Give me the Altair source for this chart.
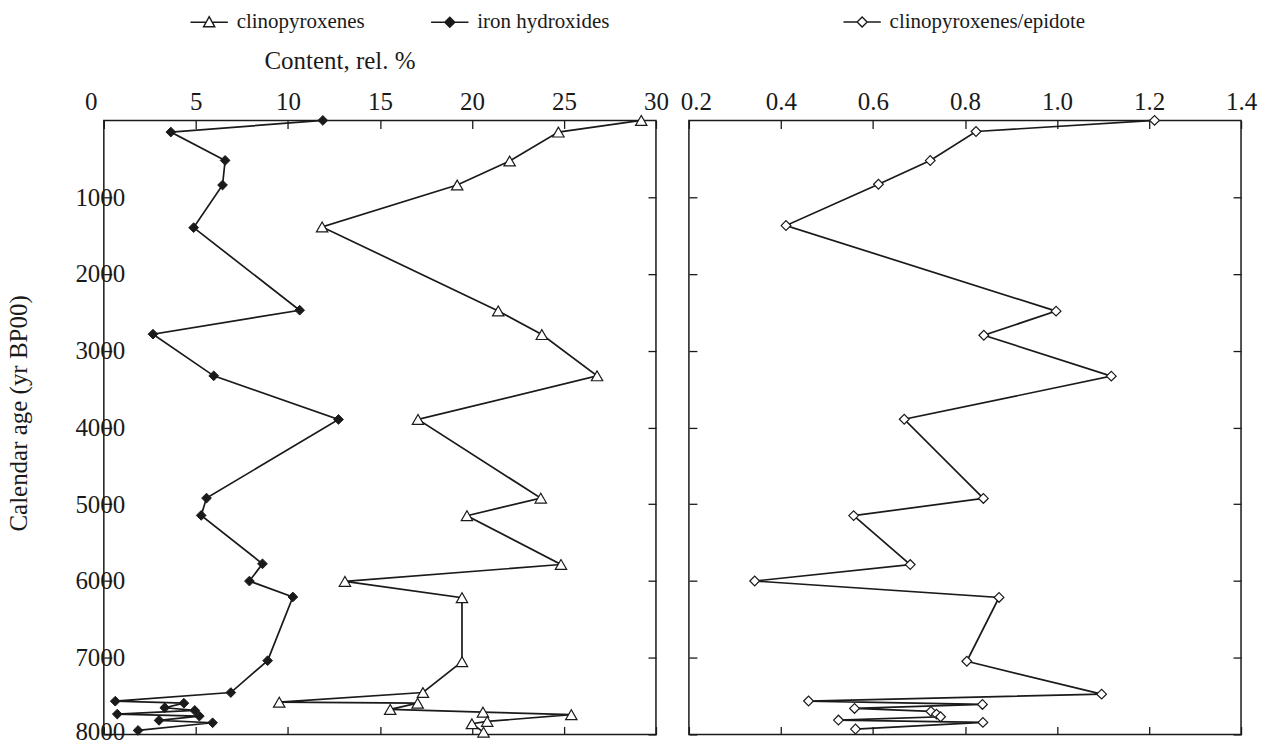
import altair as alt
import pandas as pd

# ---------------- data ----------------
SER_L = ["clinopyroxenes", "iron hydroxides"]
SER_R = ["clinopyroxenes/epidote"]

clino_age = [0, 152, 529, 842, 1388, 2482, 2790, 3328, 3896, 4921, 5150, 5786, 6006,
             6218, 7052, 7454, 7580, 7593, 7674, 7709, 7743, 7830, 7861, 7970]
clino_val = [29.2, 24.7, 22.05, 19.2, 11.86, 21.43, 23.8, 26.8, 17.07, 23.74, 19.73, 24.84, 13.1,
             19.46, 19.46, 17.34, 9.53, 17.05, 15.56, 20.6, 25.4, 20.83, 20.0, 20.63]

iron_age = [0, 152, 521, 842, 1397, 2473, 2785, 3328, 3896, 4921, 5146, 5777, 6002,
            6209, 7039, 7454, 7567, 7593, 7652, 7687, 7735, 7761, 7817, 7848, 7948]
iron_val = [11.9, 3.64, 6.59, 6.45, 4.88, 10.64, 2.67, 5.97, 12.75, 5.58, 5.29, 8.62, 7.91,
            10.27, 8.9, 6.9, 0.62, 4.35, 3.31, 4.94, 0.73, 5.19, 3.0, 5.91, 1.86]

ratio_age = [0, 144, 523, 832, 1370, 2485, 2799, 3332, 3894, 4925, 5149, 5787, 6001,
             6215, 7047, 7475, 7565, 7609, 7661, 7700, 7735, 7770, 7813, 7843, 7930]
ratio_val = [1.212, 0.824, 0.7245, 0.612, 0.411, 0.998, 0.841, 1.118, 0.668, 0.84, 0.558, 0.681, 0.343,
             0.874, 0.804, 1.097, 0.46, 0.838, 0.56, 0.726, 0.738, 0.747, 0.525, 0.839, 0.562]

age_ticks = [1000, 2000, 3000, 4000, 5000, 6000, 7000, 8000]
content_ticks = [0, 5, 10, 15, 20, 25, 30]
ratio_ticks = [0.2, 0.4, 0.6, 0.8, 1.0, 1.2, 1.4]

df_left = pd.DataFrame({
    "series": [SER_L[0]] * len(clino_age) + [SER_L[1]] * len(iron_age),
    "age": clino_age + iron_age,
    "content": clino_val + iron_val,
})
df_right = pd.DataFrame({
    "series": SER_R * len(ratio_age),
    "age": ratio_age,
    "ratio": ratio_val,
})

# ---------------- styling ----------------
FONT = "Liberation Serif"
INK = "#1a1a1a"
TICK = {"expr": "-8"}
W, H = 553, 615
LW = 1.7

# legend symbols: line with marker in the middle
PATH_TRI = "M-1,0L-0.17,0M0.17,0L1,0M0,-0.3L0.3,0.24L-0.3,0.24Z"
PATH_DIA = "M-1,0L-0.26,0M0.26,0L1,0M0,-0.27L0.27,0L0,0.27L-0.27,0Z"

yscale = alt.Scale(domain=[0, 8000], reverse=True, nice=False, zero=False)
xs_left = alt.Scale(domain=[0, 30], nice=False, zero=False)
xs_right = alt.Scale(domain=[0.2, 1.4], nice=False, zero=False)


def tick_axis(orient, values):
    return alt.Axis(orient=orient, values=values, labels=False, title=None,
                    tickSize=TICK, domain=False, grid=False)


def legend(x, y, cols):
    return alt.Legend(orient="none", legendX=x, legendY=y, direction="horizontal",
                      columns=cols, title=None, labelFont=FONT, labelFontSize=21,
                      labelColor=INK, labelLimit=600, symbolStrokeColor=INK,
                      symbolStrokeWidth=1.4, symbolSize=1400, columnPadding=62,
                      labelOffset=8, padding=0)


def legend_layer(df, xfield, xscale, domain, paths, fills, leg):
    return alt.Chart(df).transform_filter("false").mark_point(
        filled=False, size=1400, stroke=INK, strokeWidth=1.4, opacity=1
    ).encode(
        x=alt.X(xfield, scale=xscale, axis=None),
        y=alt.Y("age:Q", scale=yscale, axis=None),
        shape=alt.Shape("series:N", scale=alt.Scale(domain=domain, range=paths), legend=leg),
        fill=alt.Fill("series:N", scale=alt.Scale(domain=domain, range=fills), legend=leg),
        stroke=alt.Stroke("series:N", scale=alt.Scale(domain=domain, range=[INK] * len(domain)),
                          legend=leg),
    )


# ---------------- left panel ----------------
l_lines = alt.Chart(df_left).mark_line(color=INK, strokeWidth=LW).encode(
    x=alt.X("content:Q", scale=xs_left,
            axis=alt.Axis(orient="top", values=content_ticks, title="Content, rel. %",
                          tickSize=TICK, labelPadding=14, labelFlush=False,
                          domain=False, grid=False,
                          labelOffset={"condition": {"test": "datum.value == 0", "value": -13},
                                       "value": 0},
                          titleX=236, titleY=-52, titleBaseline="alphabetic")),
    y=alt.Y("age:Q", scale=yscale,
            axis=alt.Axis(orient="left", values=age_ticks, format="d",
                          title="Calendar age (yr BP00)",
                          tickSize=TICK, labelPadding=-13, domain=False, grid=False,
                          labelOffset={"condition": {"test": "datum.value == 8000", "value": -3},
                                       "value": 0},
                          titleX=-72, titleY=293)),
    detail="series:N",
    order="age:Q",
)

l_pts_c = alt.Chart(df_left).transform_filter(
    alt.datum.series == SER_L[0]
).mark_point(shape="triangle-up", size=130, filled=True, fill="white", stroke=INK,
             strokeWidth=1.2, opacity=1).encode(
    x=alt.X("content:Q", scale=xs_left, axis=tick_axis("bottom", content_ticks)),
    y=alt.Y("age:Q", scale=yscale, axis=tick_axis("right", age_ticks)),
)

l_pts_i = alt.Chart(df_left).transform_filter(
    alt.datum.series == SER_L[1]
).mark_point(shape="diamond", size=95, filled=True, fill=INK, stroke=INK,
             strokeWidth=1, opacity=1).encode(
    x=alt.X("content:Q", scale=xs_left, axis=None),
    y=alt.Y("age:Q", scale=yscale, axis=None),
)

l_leg = legend_layer(df_left, "content:Q", xs_left, SER_L, [PATH_TRI, PATH_DIA],
                     ["white", INK], legend(86, -118, 2))

left = alt.layer(l_lines, l_pts_c, l_pts_i, l_leg).resolve_axis(
    x="independent", y="independent"
).properties(width=W, height=H)

# ---------------- right panel ----------------
r_lines = alt.Chart(df_right).mark_line(color=INK, strokeWidth=LW).encode(
    x=alt.X("ratio:Q", scale=xs_right,
            axis=alt.Axis(orient="top", values=ratio_ticks, format=".1f", title=None,
                          tickSize=TICK, labelPadding=14, labelFlush=False,
                          domain=False, grid=False,
                          labelOffset={"condition": {"test": "datum.value < 0.25", "value": 7},
                                       "value": 0})),
    y=alt.Y("age:Q", scale=yscale, axis=tick_axis("left", age_ticks)),
    order="age:Q",
)

r_pts = alt.Chart(df_right).mark_point(shape="diamond", size=95, filled=True, fill="white",
                                       stroke=INK, strokeWidth=1.2, opacity=1).encode(
    x=alt.X("ratio:Q", scale=xs_right, axis=tick_axis("bottom", ratio_ticks)),
    y=alt.Y("age:Q", scale=yscale, axis=tick_axis("right", age_ticks)),
)

r_leg = legend_layer(df_right, "ratio:Q", xs_right, SER_R, [PATH_DIA], ["white"],
                     legend(154, -118, 1))

right = alt.layer(r_lines, r_pts, r_leg).resolve_axis(
    x="independent", y="independent"
).properties(width=W, height=H)

chart = alt.hconcat(left, right, spacing=33, bounds="flush").resolve_scale(
    x="independent", shape="independent", fill="independent", stroke="independent"
).resolve_legend(
    shape="independent", fill="independent", stroke="independent"
).properties(
    padding={"left": 6, "top": 1, "right": 6, "bottom": 9}
).configure_view(
    stroke=INK, strokeWidth=1.5
).configure_axis(
    labelFont=FONT, labelFontSize=25, labelColor=INK,
    titleFont=FONT, titleFontSize=25, titleFontWeight="normal", titleColor=INK,
    tickColor=INK, tickWidth=1.3,
).configure_legend(
    labelFont=FONT, labelFontSize=21, labelColor=INK, labelLimit=600,
    symbolStrokeColor=INK, symbolStrokeWidth=1.4,
)

chart.save("out.html", embed_options={"renderer": "svg", "actions": False})
